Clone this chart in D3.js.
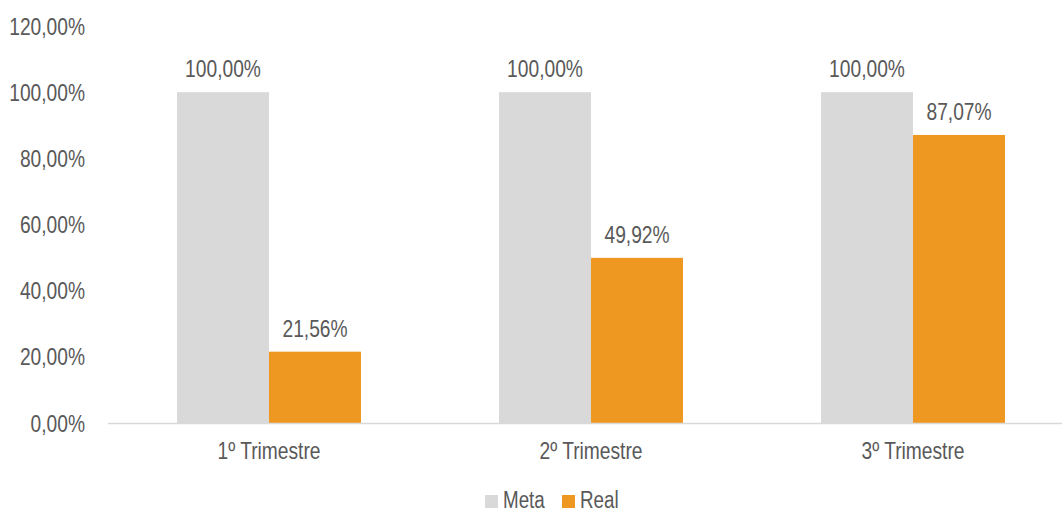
<!DOCTYPE html>
<html>
<head>
<meta charset="utf-8">
<script src="https://cdn.jsdelivr.net/npm/d3@7"></script>
<style>
  html, body { margin: 0; padding: 0; background: #fff; }
  svg text { font-family: "Liberation Sans", Arial, sans-serif; fill: #595959; }
</style>
</head>
<body>
<svg id="chart" width="1062" height="513"></svg>
<script>
// Quarterly target (Meta) vs achieved (Real)
const categories = ["1º Trimestre", "2º Trimestre", "3º Trimestre"];
const seriesNames = ["Meta", "Real"];
const metaValues = [100.00, 100.00, 100.00];
const realValues = [21.56, 49.92, 87.07];
const yTicks = [0, 20, 40, 60, 80, 100, 120];
const colors = ["#d9d9d9", "#ee9821"];

const svg = d3.select("#chart");
const fmt = v => v.toFixed(2).replace(".", ",") + "%";
const FS = 24, SX = 0.8; // condensed text: horizontal squeeze

// place a condensed text label at (x, y)
function label(parent, x, y, str, anchor, size) {
  const g = parent.append("g").attr("transform", `translate(${x},${y}) scale(${SX},1)`);
  g.append("text").attr("text-anchor", anchor).attr("font-size", size || FS).text(str);
  return g;
}

const x0 = d3.scaleBand().domain(categories).range([108, 1074])
  .paddingInner(0.4286).paddingOuter(0.2143);
const x1 = d3.scaleBand().domain(seriesNames).range([0, x0.bandwidth()]);
const y = d3.scaleLinear().domain([0, 120]).range([423, 26]);

const rows = categories.map((c, i) => ({ cat: c, vals: [metaValues[i], realValues[i]] }));

// y-axis labels
const gy = svg.append("g");
yTicks.forEach(t => label(gy, 85, y(t) + 8.5, fmt(t), "end"));

// bars
const groups = svg.append("g").selectAll("g").data(rows).join("g")
  .attr("transform", d => `translate(${x0(d.cat)},0)`);
groups.selectAll("rect").data(d => d.vals.map((v, j) => ({ s: seriesNames[j], v, j })))
  .join("rect")
  .attr("x", d => x1(d.s)).attr("width", x1.bandwidth())
  .attr("y", d => y(d.v)).attr("height", d => y(0) - y(d.v))
  .attr("fill", d => colors[d.j]);

// value labels
const gv = svg.append("g");
rows.forEach(r => r.vals.forEach((v, j) => {
  label(gv, x0(r.cat) + x1(seriesNames[j]) + x1.bandwidth() / 2, y(v) - 15, fmt(v), "middle");
}));

// baseline
svg.append("line").attr("x1", 108).attr("x2", 1062)
  .attr("y1", y(0) + 0.5).attr("y2", y(0) + 0.5)
  .attr("stroke", "#d9d9d9").attr("stroke-width", 1.5);

// category labels
const gx = svg.append("g");
categories.forEach(c => label(gx, x0(c) + x0.bandwidth() / 2, 459, c, "middle"));

// legend
const legendItems = [{ name: "Meta", x: 485 }, { name: "Real", x: 562 }];
const lg = svg.append("g");
legendItems.forEach((d, i) => {
  lg.append("rect").attr("x", d.x).attr("y", 495).attr("width", 13).attr("height", 13)
    .attr("fill", colors[i]);
  label(lg, d.x + 18, 507.5, d.name, "start", 23.5);
});
</script>
</body>
</html>
